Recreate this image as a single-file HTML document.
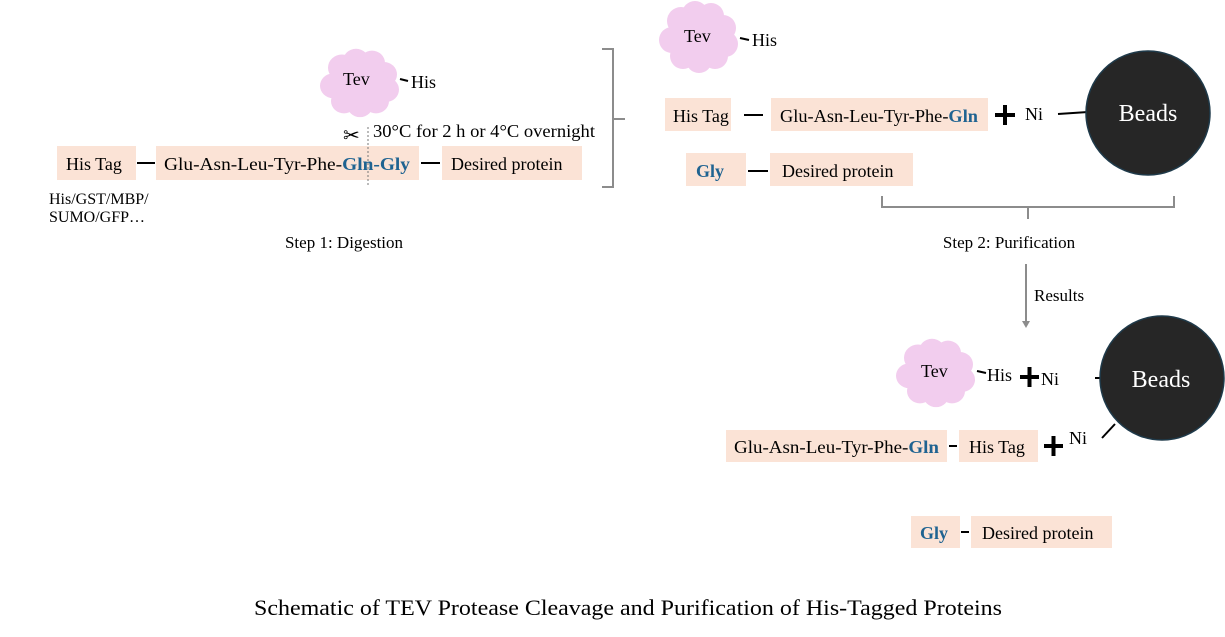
<!DOCTYPE html>
<html><head><meta charset="utf-8"><style>
html,body{margin:0;padding:0;background:#fff;}
svg{display:block;font-family:"Liberation Serif",serif;}
</style></head><body>
<svg width="1225" height="637" viewBox="0 0 1225 637" xmlns="http://www.w3.org/2000/svg">
<defs>
<g id="cloud">
<circle cx="-18" cy="-15" r="14"/><circle cx="-4" cy="-22" r="13"/><circle cx="12" cy="-20" r="13"/><circle cx="24" cy="-8" r="13"/>
<circle cx="26" cy="8" r="13"/><circle cx="16" cy="20" r="13"/><circle cx="0" cy="24" r="13"/>
<circle cx="-16" cy="20" r="13"/><circle cx="-27" cy="4" r="13"/><circle cx="0" cy="0" r="26"/>
</g>
</defs>
<g fill="#fbe3d6">
<rect x="57" y="146" width="79" height="34"/>
<rect x="156" y="146" width="263" height="34"/>
<rect x="442" y="146" width="140" height="34"/>
<rect x="665" y="98" width="66" height="33"/>
<rect x="771" y="98" width="217" height="33"/>
<rect x="686" y="153" width="60" height="33"/>
<rect x="770" y="153" width="143" height="33"/>
<rect x="726" y="430" width="221" height="32"/>
<rect x="959" y="430" width="79" height="32"/>
<rect x="911" y="516" width="49" height="32"/>
<rect x="971" y="516" width="141" height="32"/>
</g>
<g fill="#f2cdee">
<use href="#cloud" transform="translate(360,82) scale(1.0,0.95)"/>
<use href="#cloud" transform="translate(699,36) scale(1.0,1.0)"/>
<use href="#cloud" transform="translate(936,372) scale(1.0,0.95)"/>
</g>
<g stroke="#000" stroke-width="2">
<line x1="137" y1="163" x2="155" y2="163"/>
<line x1="421" y1="163" x2="440" y2="163"/>
<line x1="400" y1="79" x2="408" y2="81"/>
<line x1="740" y1="38" x2="749" y2="40"/>
<line x1="744" y1="115" x2="763" y2="115"/>
<line x1="748" y1="171" x2="768" y2="171"/>
<line x1="1058" y1="114" x2="1088" y2="112"/>
<line x1="977" y1="371" x2="986" y2="373"/>
<line x1="1095" y1="378" x2="1100" y2="378"/>
<line x1="949" y1="446" x2="957" y2="446"/>
<line x1="1102" y1="438" x2="1115" y2="424"/>
<line x1="961" y1="532" x2="969" y2="532"/>
</g>
<g stroke="#000" stroke-width="4">
<line x1="995" y1="115" x2="1015" y2="115"/><line x1="1005" y1="105" x2="1005" y2="125"/>
<line x1="1020" y1="377" x2="1039" y2="377"/><line x1="1029.5" y1="367" x2="1029.5" y2="387"/>
<line x1="1044" y1="446" x2="1063" y2="446"/><line x1="1053.5" y1="436" x2="1053.5" y2="456"/>
</g>
<line x1="368" y1="127" x2="368" y2="187" stroke="#777" stroke-width="1" stroke-dasharray="2,2"/>
<circle cx="1148" cy="113" r="62" fill="#262626" stroke="#1f3a4a" stroke-width="1.5"/>
<circle cx="1162" cy="378" r="62" fill="#262626" stroke="#1f3a4a" stroke-width="1.5"/>
<g fill="none" stroke="#8c8c8c" stroke-width="2">
<path d="M602 49 H613 V187 H602 M613 119 H625"/>
<path d="M882 196 V207 H1174 V196 M1028 207 V219"/>
<line x1="1026" y1="264" x2="1026" y2="322"/>
</g>
<path d="M1022 321 L1030 321 L1026 328 Z" fill="#8c8c8c"/>
<g font-size="18" fill="#000">
<text x="66" y="170">His Tag</text>
<text x="164" y="170" textLength="246" lengthAdjust="spacingAndGlyphs">Glu-Asn-Leu-Tyr-Phe-<tspan fill="#1f6391" font-weight="bold">Gln-Gly</tspan></text>
<text x="451" y="170">Desired protein</text>
<text x="343" y="85">Tev</text>
<text x="411" y="88">His</text>
<text x="373" y="137" textLength="222" lengthAdjust="spacingAndGlyphs">30°C for 2 h or 4°C overnight</text>
<text x="343" y="142" font-size="20">✂</text>
<text x="49" y="204" font-size="16">His/GST/MBP/</text>
<text x="49" y="222" font-size="16">SUMO/GFP…</text>
<text x="344" y="248" font-size="17" text-anchor="middle">Step 1: Digestion</text>
<text x="684" y="42">Tev</text>
<text x="752" y="46">His</text>
<text x="673" y="122">His Tag</text>
<text x="780" y="122" textLength="198" lengthAdjust="spacingAndGlyphs">Glu-Asn-Leu-Tyr-Phe-<tspan fill="#1f6391" font-weight="bold">Gln</tspan></text>
<text x="1025" y="120">Ni</text>
<text x="1148" y="121" fill="#fff" font-size="24" text-anchor="middle">Beads</text>
<text x="696" y="177" fill="#1f6391" font-weight="bold">Gly</text>
<text x="782" y="177">Desired protein</text>
<text x="1009" y="248" font-size="17" text-anchor="middle">Step 2: Purification</text>
<text x="1034" y="301" font-size="17">Results</text>
<text x="921" y="377">Tev</text>
<text x="987" y="381">His</text>
<text x="1041" y="385">Ni</text>
<text x="1161" y="387" fill="#fff" font-size="24" text-anchor="middle">Beads</text>
<text x="734" y="453" textLength="205" lengthAdjust="spacingAndGlyphs">Glu-Asn-Leu-Tyr-Phe-<tspan fill="#1f6391" font-weight="bold">Gln</tspan></text>
<text x="969" y="453">His Tag</text>
<text x="1069" y="444">Ni</text>
<text x="920" y="539" fill="#1f6391" font-weight="bold">Gly</text>
<text x="982" y="539">Desired protein</text>
<text x="628" y="615" font-size="22" text-anchor="middle" textLength="748" lengthAdjust="spacingAndGlyphs">Schematic of TEV Protease Cleavage and Purification of His-Tagged Proteins</text>
</g>
</svg>
</body></html>
